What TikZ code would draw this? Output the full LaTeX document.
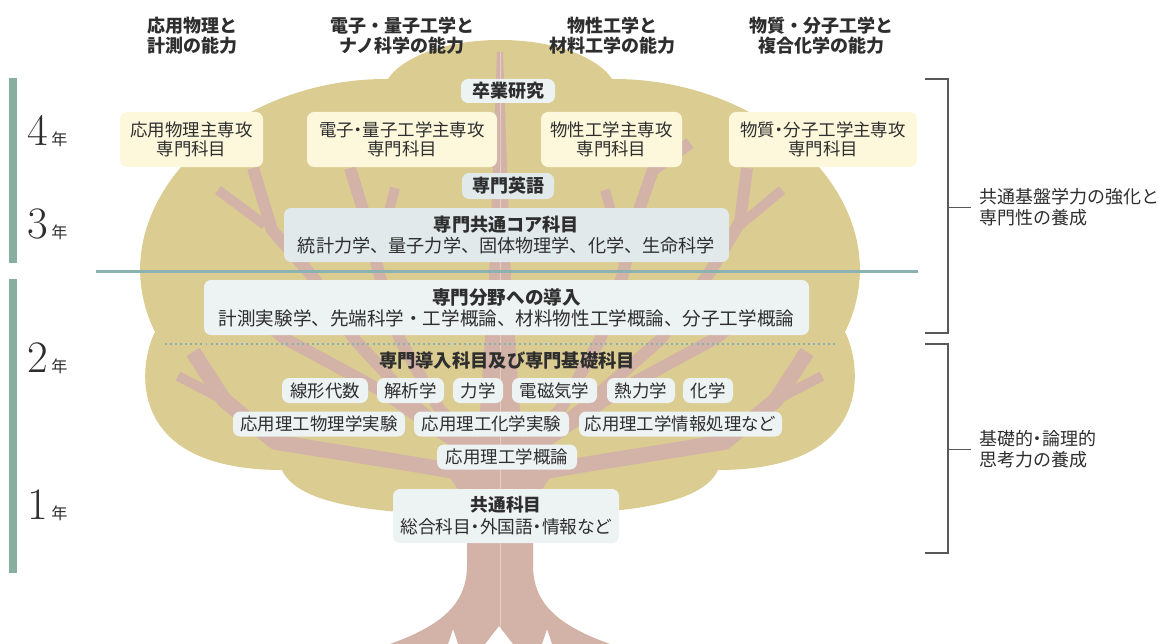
\documentclass[tikz,border=0pt]{standalone}
\usepackage{fontspec}
\usepackage{tikz}
\newfontfamily\jp{Noto Sans CJK JP}
\newfontfamily\jpp{Noto Sans CJK JP}[RawFeature=+palt]
\definecolor{crown}{HTML}{DBCC92}
\definecolor{bark}{HTML}{D3B2A8}
\definecolor{paleyellow}{HTML}{FDF8DC}
\definecolor{palegrey}{HTML}{EDF2F2}
\definecolor{midgrey}{HTML}{E2E9EB}
\definecolor{bargreen}{HTML}{88AEA0}
\definecolor{tealline}{HTML}{8BB1B0}
\definecolor{ink}{HTML}{2E2E2E}
\newcommand\yearnum[1]{{\fontsize{32}{32}\selectfont #1}\hspace{2.5pt}{\jp\fontsize{11.5}{12}\selectfont 年}}

\begin{document}
\begin{tikzpicture}[x=0.025cm, y=-0.025cm,
  boxw/.style={minimum width=#1*0.025cm},
  boxh/.style={minimum height=#1*0.025cm},
  head/.style={font=\jp\bfseries\fontsize{12.8}{14.2}\selectfont, align=center, text=ink, inner sep=0pt},
  yearlab/.style={anchor=base west, inner sep=0pt, text=ink},
  yelbox/.style={fill=paleyellow, rounded corners=5pt, inner sep=0pt, align=center, text=ink, boxh=55, font=\jp\fontsize{12.4}{13.9}\selectfont},
  lightbox/.style={fill=palegrey, rounded corners=5pt, inner sep=0pt, align=center, text=ink, font=\jp\fontsize{12.8}{15}\selectfont},
  darkbox/.style={lightbox, fill=midgrey},
  subj/.style={lightbox, boxh=25, font=\jp\fontsize{12.4}{14}\selectfont},
  aim/.style={anchor=west, align=left, inner xsep=0.2cm, inner ysep=0pt, text=ink, font=\jp\fontsize{12.8}{15}\selectfont},
  brace/.style={draw=black!65, line width=0.9pt},
  branch/.style={draw=bark, line width=8.5pt, line join=round},
  twig/.style={draw=bark, line width=7pt}]
\useasboundingbox (0,0) rectangle (1165,644);

\fill[crown] (500,40) .. controls (560,40) and (600,60) .. (612,79)
  .. controls (775,78) and (905,210) .. (845,332)
  .. controls (860,360) and (880,470) .. (718,470)
  .. controls (700,510) and (600,515) .. (500,515)
  .. controls (400,515) and (300,510) .. (282,470)
  .. controls (120,470) and (140,360) .. (155,332)
  .. controls (95,210) and (225,78) .. (388,79)
  .. controls (400,60) and (440,40) .. (500,40) -- cycle;

\draw[branch] (253,168) -- (272,230) -- (313,277) -- (355,340) -- (420,410) -- (495,470);
\draw[branch] (350,168) -- (363,210) -- (380,277) -- (400,340) -- (440,410) -- (497,465);
\draw[branch] (240,300) -- (282,337) -- (380,390) -- (495,470);
\draw[branch, line width=11pt] (193,352) -- (224,400) -- (275,442) -- (400,462) -- (495,478);
\draw[twig] (218,190) -- (265,225);
\draw[twig] (395,188) -- (388,215);
\draw[twig] (178,376) -- (224,400);
\draw[branch] (747,168) -- (740,222) -- (710,272) -- (660,340) -- (580,410) -- (505,470);
\draw[branch] (690,143) -- (653,170) -- (640,207) -- (622,277) -- (600,340) -- (560,410) -- (503,465);
\draw[branch] (760,300) -- (718,337) -- (620,390) -- (505,470);
\draw[branch, line width=11pt] (807,352) -- (776,400) -- (725,442) -- (600,462) -- (505,478);
\draw[twig] (782,190) -- (740,225);
\draw[twig] (605,190) -- (612,215);
\draw[twig] (822,376) -- (776,400);

\fill[bark] (390,644) .. controls (440,626) and (467,605) .. (467,565) -- (467,525)
  .. controls (466,497) and (454,480) .. (440,468) -- (478,440)
  -- (489,280) -- (497,52) -- (503,52) -- (511,280) -- (522,440) -- (560,468)
  .. controls (546,480) and (534,497) .. (533,525) -- (533,565)
  .. controls (533,605) and (560,626) .. (610,644) -- (552,644) -- (547,629)
  -- (542,644) -- (513,644) -- (499,626) -- (485,644) -- (458,644) -- (453,629)
  -- (448,644) -- cycle;
\draw[white, opacity=0.35, line width=0.6pt] (500,52) -- (500,644);

\fill[bargreen] (9,78) rectangle (17,263);
\fill[bargreen] (9,279) rectangle (17,573);
\draw[tealline, line width=1.9pt] (96,271.5) -- (918,271.5);
\draw[tealline, line width=1.5pt, dash pattern=on 1.4pt off 2.2pt] (165,344) -- (838,344);

\node[head] (hdphys) at (192,36) {応用物理と\\計測の能力};
\node[head] (hdnano) at (402,36) {電子・量子工学と\\ナノ科学の能力};
\node[head] (hdmat) at (612,36) {物性工学と\\材料工学の能力};
\node[head] (hdchem) at (821,36) {物質・分子工学と\\複合化学の能力};

\node[yearlab] (yr4) at (27,145) {\yearnum{4}};
\node[yearlab] (yr3) at (27,238) {\yearnum{3}};
\node[yearlab] (yr2) at (27,372) {\yearnum{2}};
\node[yearlab] (yr1) at (27,519) {\yearnum{1}};

\node[lightbox, boxw=94, boxh=24] (thesis) at (508,91) {\bfseries 卒業研究};
\node[yelbox, boxw=143] (majphys) at (191.5,139.5) {応用物理主専攻\\専門科目};
\node[yelbox, boxw=190] (majnano) at (402,139.5) {{\jpp 電子・量子工学主専攻}\\専門科目};
\node[yelbox, boxw=141] (majmat) at (611.5,139.5) {物性工学主専攻\\専門科目};
\node[yelbox, boxw=188] (majchem) at (823,139.5) {{\jpp 物質・分子工学主専攻}\\専門科目};
\node[darkbox, boxw=92, boxh=26] (english) at (508,186) {\bfseries 専門英語};
\node[darkbox, boxw=445, boxh=54, font=\jp\fontsize{12.9}{15}\selectfont] (core) at (506.5,235)
  {{\bfseries 専門共通コア科目}\\統計力学、量子力学、固体物理学、化学、生命科学};
\node[lightbox, boxw=605, boxh=55, font=\jp\fontsize{13.2}{15}\selectfont] (intro) at (506.5,307.5)
  {{\bfseries 専門分野への導入}\\計測実験学、先端科学・工学概論、材料物性工学概論、分子工学概論};

\node[head, font=\jp\bfseries\fontsize{13}{14}\selectfont] (basics) at (507,361) {専門導入科目及び専門基礎科目};
\node[subj, boxw=86] (linalg) at (325,390.5) {線形代数};
\node[subj, boxw=67] (calc) at (410.5,390.5) {解析学};
\node[subj, boxw=50] (mech) at (478,390.5) {力学};
\node[subj, boxw=85] (elmag) at (554.5,390.5) {電磁気学};
\node[subj, boxw=68] (thermo) at (641,390.5) {熱力学};
\node[subj, boxw=50] (chem) at (708,390.5) {化学};
\node[subj, boxw=172] (physlab) at (319,424) {応用理工物理学実験};
\node[subj, boxw=155] (chemlab) at (491.5,424) {応用理工化学実験};
\node[subj, boxw=203] (infoproc) at (680.5,424) {応用理工学情報処理など};
\node[subj, boxw=140] (survey) at (507,457) {応用理工学概論};
\node[lightbox, boxw=226, boxh=54, font=\jp\fontsize{12.6}{15.6}\selectfont] (common) at (506,516)
  {{\bfseries 共通科目}\\{\jpp 総合科目・外国語・情報など}};

\node[aim] (aimupper) at (971,207.5) {共通基盤学力の強化と\\専門性の養成};
\node[aim] (aimlower) at (971,449.5) {{\jpp 基礎的・論理的}\\思考力の養成};
\draw[brace] (925,79) -| (948,333) -- (925,333);
\draw[brace] (948,207.5) -- (aimupper.west);
\draw[brace] (925,344) -| (948,553) -- (925,553);
\draw[brace] (948,449.5) -- (aimlower.west);
\end{tikzpicture}
\end{document}
